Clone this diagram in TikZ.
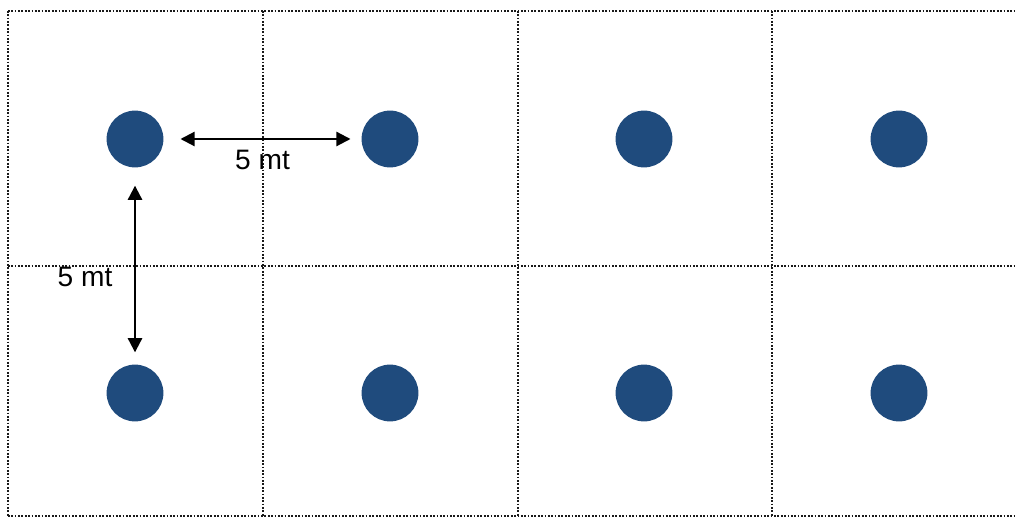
\documentclass[tikz,border=0pt]{standalone}
\usepackage{fontspec}
\setmainfont{Liberation Sans}
\usetikzlibrary{positioning}
\usetikzlibrary{arrows.meta}
\definecolor{dotblue}{RGB}{31,75,125}

\begin{document}
\begin{tikzpicture}[x=0.025cm,y=-0.025cm]
\useasboundingbox (0,0) rectangle (1016,517);
\begin{scope}[gray!20!black, line width=0.8pt, dash pattern=on 1.2pt off 1.2pt]
    \foreach \x in {8,263,518,772}
        \draw (\x,11) -- (\x,517);
    \foreach \y in {11,266,516}
        \draw (8,\y) -- (1016,\y);
\end{scope}
\begin{scope}[every node/.style={circle,fill=dotblue,minimum size=1.42cm,inner sep=0pt}]
    \node (A1) at (135,139) {};
    \node (A2) at (390,139) {};
    \node (A3) at (644,139) {};
    \node (A4) at (899,139) {};
    \node (B1) at (135,393) {};
    \node (B2) at (390,393) {};
    \node (B3) at (644,393) {};
    \node (B4) at (899,393) {};
\end{scope}
\begin{scope}[>={Triangle[length=10pt,width=10pt]},
              every edge/.style={draw=black,line width=1.5pt}]
    \path [<->, shorten <=0.42cm, shorten >=0.27cm] (A1) edge node[below=4pt, font=\fontsize{20}{24}\selectfont] {5 mt} (A2);
    \path [<->, shorten <=0.45cm, shorten >=0.3cm] (A1) edge node[left=12pt, yshift=-0.28cm, font=\fontsize{20}{24}\selectfont] {5 mt} (B1);
\end{scope}
\end{tikzpicture}
\end{document}
